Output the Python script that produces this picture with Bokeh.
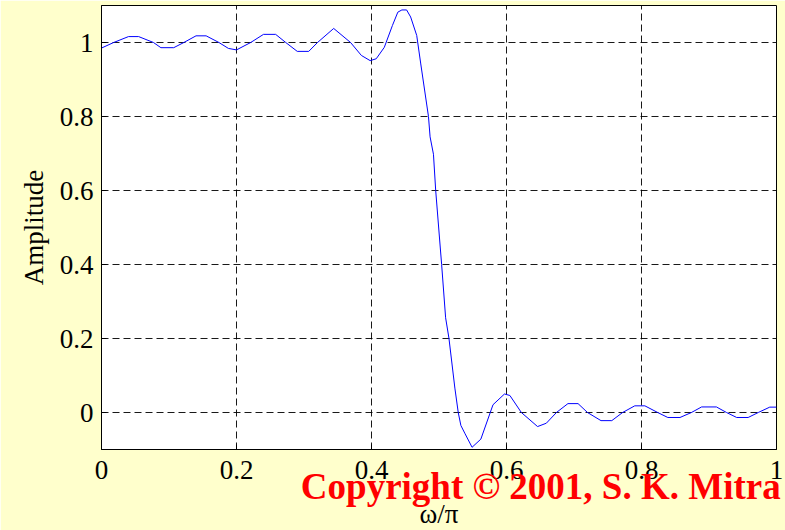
from bokeh.plotting import figure
from bokeh.models import Range1d, FixedTicker, LinearAxis
from bokeh.embed import file_html
from bokeh.resources import INLINE

# normalized frequency (omega/pi) and amplitude
omega = [0.000, 0.018, 0.040, 0.055, 0.077, 0.088, 0.107, 0.122, 0.140, 0.155,
         0.174, 0.188, 0.200, 0.221, 0.240, 0.258, 0.273, 0.290, 0.307, 0.320,
         0.344, 0.369, 0.385, 0.398, 0.407, 0.419, 0.431, 0.439, 0.445, 0.452,
         0.458, 0.467, 0.473, 0.4844, 0.4868, 0.4918, 0.4951, 0.5039, 0.5098, 0.5147,
         0.5235, 0.5285, 0.5324, 0.5382, 0.549, 0.562, 0.580, 0.597, 0.605, 0.622,
         0.646, 0.659, 0.674, 0.691, 0.706, 0.720, 0.740, 0.756, 0.772, 0.790,
         0.805, 0.824, 0.839, 0.857, 0.874, 0.889, 0.911, 0.926, 0.941, 0.958,
         0.973, 0.990, 1.000]
amplitude = [0.985, 1.000, 1.016, 1.016, 1.000, 0.986, 0.986, 1.000, 1.018, 1.018,
             1.000, 0.984, 0.980, 1.000, 1.022, 1.022, 1.000, 0.976, 0.976, 1.000,
             1.038, 1.000, 0.965, 0.951, 0.956, 0.987, 1.046, 1.082, 1.088, 1.088,
             1.069, 1.019, 0.942, 0.800, 0.745, 0.698, 0.600, 0.400, 0.256, 0.201,
             0.066, 0.000, -0.035, -0.056, -0.094, -0.072, 0.021, 0.050, 0.046, 0.000,
             -0.038, -0.029, 0.000, 0.024, 0.024, 0.000, -0.022, -0.022, 0.000, 0.018,
             0.018, 0.000, -0.0135, -0.0135, 0.000, 0.015, 0.015, 0.000, -0.0135, -0.0135,
             0.000, 0.0145, 0.0145]

x_ticks = [0, 0.2, 0.4, 0.6, 0.8, 1]
y_ticks = [0, 0.2, 0.4, 0.6, 0.8, 1]
x_label = "ω/π"
y_label = "Amplitude"
copyright_text = "Copyright © 2001, S. K. Mitra"

BG = "#ffffcc"
FONT = "Liberation Serif"

p = figure(frame_width=675, frame_height=444,
           min_border_left=101, min_border_right=9,
           min_border_top=5, min_border_bottom=81,
           x_range=Range1d(0, 1), y_range=Range1d(-0.1, 1.1),
           output_backend="svg", toolbar_location=None)

p.background_fill_color = "white"
p.border_fill_color = BG
p.outline_line_color = "black"
p.outline_line_width = 1
p.outline_line_alpha = 1

p.line(omega, amplitude, line_color="#0000ff", line_width=1)

for ax in (p.xaxis[0], p.yaxis[0]):
    ax.axis_line_color = "black"
    ax.major_tick_line_color = "black"
    ax.major_tick_in = 5
    ax.major_tick_out = 0
    ax.minor_tick_line_color = None
    ax.major_label_text_font = FONT
    ax.major_label_text_font_size = "27px"
    ax.major_label_text_color = "black"
    ax.axis_label_text_font = FONT
    ax.axis_label_text_font_size = "27px"
    ax.axis_label_text_font_style = "normal"
    ax.axis_label_text_color = "black"

p.xaxis.ticker = FixedTicker(ticks=x_ticks)
p.yaxis.ticker = FixedTicker(ticks=y_ticks)
p.xaxis.major_label_overrides = {0: "0", 1: "1"}
p.yaxis.major_label_overrides = {0: "0", 1: "1"}
p.xaxis.axis_label = x_label
p.yaxis.axis_label = y_label
p.xaxis.major_label_standoff = 11
p.yaxis.major_label_standoff = 8
p.xaxis.axis_label_standoff = 17
p.yaxis.axis_label_standoff = 8

for g in (p.xgrid[0], p.ygrid[0]):
    g.grid_line_color = "black"
    g.grid_line_dash = "7 4"
    g.grid_line_width = 1
    g.grid_line_alpha = 0.9

# copyright notice drawn as the label of a bare extra axis, pulled up over the tick labels;
# leading no-break spaces shift the centred label to the right, as in the reference
note_axis = LinearAxis(ticker=FixedTicker(ticks=[]),
                       axis_line_color=None, major_tick_line_color=None,
                       minor_tick_line_color=None,
                       axis_label="\u00a0" * 22 + copyright_text, axis_label_align="center",
                       axis_label_standoff=-66,
                       axis_label_text_font=FONT, axis_label_text_font_size="37px",
                       axis_label_text_font_style="bold", axis_label_text_color="red")
p.add_layout(note_axis, "below")

html = file_html(p, INLINE, title="Amplitude response")
html = html.replace("<body>", '<body style="margin:0;overflow:hidden;background:%s;">' % BG, 1)
open("out.html", "w").write(html)
